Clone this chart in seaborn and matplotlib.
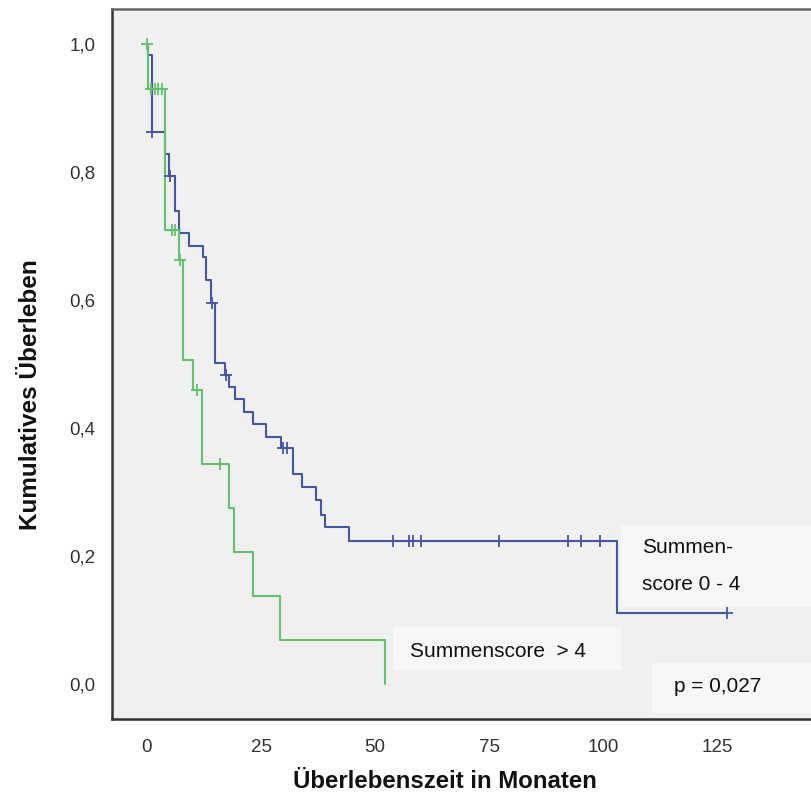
import matplotlib
matplotlib.use("Agg")
import matplotlib.pyplot as plt
from matplotlib import font_manager
from matplotlib.patches import Rectangle
import seaborn as sns
import pandas as pd

# ---- data ----
blue_label = "Summenscore 0 - 4"
green_label = "Summenscore > 4"

blue_times = [0, 0.2, 1.0, 3.9, 4.8, 6.1, 7.1, 9.3, 12.2, 12.9, 14.0, 14.9, 17.1, 18.0,
              19.3, 21.2, 23.3, 26.0, 29.3, 32.0, 34.0, 37.1, 38.1, 39.1, 44.2, 103.1, 127.2]
blue_surv = [1.0, 0.983, 0.863, 0.828, 0.794, 0.739, 0.704, 0.684, 0.667, 0.631, 0.595, 0.502,
             0.483, 0.464, 0.445, 0.425, 0.406, 0.386, 0.368, 0.328, 0.307, 0.288, 0.264,
             0.245, 0.224, 0.111, 0.111]
blue_cens_t = [1.2, 5.1, 14.2, 17.3, 29.7, 30.6, 54.0, 57.4, 58.3, 60.1, 77.2, 92.2, 95.0, 99.2, 127.2]
blue_cens_s = [0.863, 0.794, 0.595, 0.483, 0.368, 0.368, 0.224, 0.224, 0.224, 0.224, 0.224,
               0.224, 0.224, 0.224, 0.111]

green_times = [0, 0.3, 4.0, 7.0, 7.9, 10.1, 12.1, 18.0, 19.1, 23.3, 29.1, 52.2]
green_surv = [1.0, 0.929, 0.709, 0.662, 0.507, 0.459, 0.344, 0.275, 0.206, 0.137, 0.069, 0.0]
green_cens_t = [0.0, 0.8, 1.75, 2.5, 3.2, 5.4, 6.1, 7.2, 10.9, 16.1]
green_cens_s = [1.0, 0.929, 0.929, 0.929, 0.929, 0.709, 0.709, 0.662, 0.459, 0.344]

x_ticks = [0, 25, 50, 75, 100, 125]
y_ticks = [0.0, 0.2, 0.4, 0.6, 0.8, 1.0]
y_ticklabels = ["0,0", "0,2", "0,4", "0,6", "0,8", "1,0"]

x_title = "Überlebenszeit in Monaten"
y_title = "Kumulatives Überleben"
p_text = "p = 0,027"

BLUE = "#4756a3"
GREEN = "#62c06e"

# ---- fonts ----
names = {f.name for f in font_manager.fontManager.ttflist}
base_font = "Liberation Sans" if "Liberation Sans" in names else "DejaVu Sans"

sns.set_style("white")
plt.rcParams["font.family"] = [base_font, "DejaVu Sans"]

df_lines = pd.concat([
    pd.DataFrame({"t": blue_times, "s": blue_surv, "g": blue_label}),
    pd.DataFrame({"t": green_times, "s": green_surv, "g": green_label}),
])
df_cens = pd.concat([
    pd.DataFrame({"t": blue_cens_t, "s": blue_cens_s, "g": blue_label}),
    pd.DataFrame({"t": green_cens_t, "s": green_cens_s, "g": green_label}),
])
palette = {blue_label: BLUE, green_label: GREEN}

fig = plt.figure(figsize=(8.12, 7.96), dpi=100)
ax_w = 1 - 112.3 / 812 + 0.01
ax = fig.add_axes([112.3 / 812, (796 - 719.3) / 796, ax_w, (719.3 - 9.3) / 796])
ax.set_facecolor("#f0f0f0")

sns.lineplot(data=df_lines, x="t", y="s", hue="g", palette=palette, drawstyle="steps-post",
             estimator=None, sort=False, linewidth=1.5, legend=False, ax=ax, zorder=3)
for grp, sub in df_cens.groupby("g"):
    ax.plot(sub["t"], sub["s"], linestyle="none", marker="+", markersize=8,
            markeredgewidth=1.3, color=palette[grp], zorder=4)

ax.set_xlim(-7.6, 147.5)
ax.set_ylim(-0.0552, 1.0542)

# annotation boxes
box_col = "#f7f7f7"
for (x0, x1, y0, y1) in [(103.9, 150, 0.121, 0.248), (53.8, 103.9, 0.0219, 0.0895),
                         (110.7, 150, -0.0453, 0.0328)]:
    ax.add_patch(Rectangle((x0, y0), x1 - x0, y1 - y0, facecolor=box_col, edgecolor="none", zorder=1))

txt_kw = dict(fontsize=15, color="#111111", family=[base_font, "DejaVu Sans"], zorder=5)
ax.text(108.5, 0.2125, "Summen-", va="center", ha="left", **txt_kw)
ax.text(108.5, 0.155, "score 0 - 4", va="center", ha="left", **txt_kw)
ax.text(57.7, 0.0505, "Summenscore  > 4", va="center", ha="left", **txt_kw)
ax.text(115.5, -0.0047, p_text, va="center", ha="left", **txt_kw)

ax.set_xticks(x_ticks)
ax.set_xticklabels([str(v) for v in x_ticks])
ax.set_yticks(y_ticks)
ax.set_yticklabels(y_ticklabels)
ax.tick_params(axis="x", direction="out", length=10, width=2, color="#333333", pad=4,
               labelsize=13.5, labelcolor="#333333")
ax.tick_params(axis="y", direction="out", length=9, width=1.6, color="#333333", pad=3,
               labelsize=13.5, labelcolor="#333333")
for lab in ax.get_xticklabels() + ax.get_yticklabels():
    lab.set_family([base_font, "DejaVu Sans"])

for side in ["left", "bottom", "top"]:
    ax.spines[side].set_visible(True)
    ax.spines[side].set_color("#333333")
    ax.spines[side].set_linewidth(1.8)
ax.spines["top"].set_color("#666666")
ax.spines["right"].set_visible(False)

ax.set_xlabel(x_title, fontsize=17.3, fontweight="bold", family=[base_font, "DejaVu Sans"],
              color="#111111")
ax.set_ylabel(y_title, fontsize=17.5, fontweight="bold", family=[base_font, "DejaVu Sans"],
              color="#111111")
ax.xaxis.set_label_coords((444.8 - 112.3) / (ax_w * 812), -0.072)
ax.yaxis.set_label_coords(-0.1, (719.3 - 395) / 710)

fig.savefig("out.png", dpi=100, facecolor="white")
